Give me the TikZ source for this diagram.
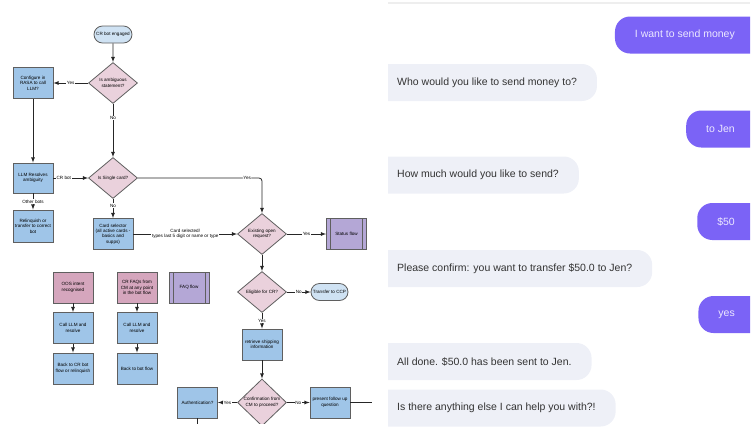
\documentclass[tikz,border=0pt]{standalone}
\usepackage{fontspec}
\setmainfont{Liberation Sans}
\usetikzlibrary{shapes.geometric,shapes.misc}

\definecolor{startblau}{HTML}{CFE2F3}
\definecolor{kastenblau}{HTML}{9FC5E8}
\definecolor{rautenrosa}{HTML}{EAD1DC}
\definecolor{altrosa}{HTML}{D5A6BD}
\definecolor{flowlila}{HTML}{B4A7D6}
\definecolor{rahmen}{HTML}{5F5F5F}
\definecolor{userlila}{HTML}{7B63F6}
\definecolor{usertext}{HTML}{ECE8FF}
\definecolor{botgrau}{HTML}{EEF0F7}
\definecolor{bottext}{HTML}{333333}
\definecolor{trenner}{HTML}{EEEEEE}

\begin{document}
\begin{tikzpicture}[x=1pt, y=-1pt,
    font=\fontsize{4.6}{5.4}\selectfont,
    >=latex % arrow tips
    ]
    \useasboundingbox (0,0) rectangle (753,437);

    \tikzset{
        Box/.style={draw=rahmen, line width=0.8pt, fill=#1, minimum width=40pt,
            minimum height=31pt, inner sep=1pt, align=center},
        Box/.default=kastenblau,
        Terminal/.style={draw=rahmen, line width=0.8pt, fill=startblau, rounded rectangle,
            minimum width=40pt, minimum height=17pt, inner sep=1pt},
        Decision/.style={draw=rahmen, line width=0.8pt, fill=rautenrosa, diamond, aspect=1.2,
            minimum width=49pt, minimum height=41pt, inner sep=0pt, align=center},
        Subflow/.style={Box=flowlila, path picture={
            \draw[rahmen, line width=0.8pt]
                ([xshift=4pt]path picture bounding box.north west) -- ([xshift=4pt]path picture bounding box.south west)
                ([xshift=-4pt]path picture bounding box.north east) -- ([xshift=-4pt]path picture bounding box.south east);}},
        Pfeil/.style={draw=black!85, line width=0.8pt, ->}, % connectors with tip
        Linie/.style={draw=black!85, line width=0.8pt},     % connectors without tip
        Label/.style={fill=white, inner sep=0.6pt},
        Bubble/.style={rounded corners=15pt, minimum height=37pt, inner xsep=20pt,
            font=\fontsize{10.5}{12}\selectfont},
        % bubbles run on past the clip, so only one end shows round
        User/.style={Bubble, fill=userlila, text=usertext, anchor=east,
            execute at end node={\hspace*{20pt}}},
        Bot/.style={Bubble, fill=botgrau, text=bottext, anchor=west,
            execute at begin node={\hspace*{19pt}}}
    }

    % Flowchart
    \begin{scope}
        \clip (0,0) rectangle (376,423);

        % main path
        \node[Terminal] (start) at (113,34.5) {CR bot engaged};
        \node[Decision] (ambig) at (113,83) {Is ambiguous\\statement?};
        \node[Box] (rasa) at (33,83) {Configure in\\RASA to call\\LLM?};
        \node[Box, minimum height=30pt] (llm) at (33,178) {LLM Resolves\\ambiguity};
        \node[Box, minimum height=32pt] (relinq) at (33,226) {Relinquish or\\transfer to correct\\bot};
        \node[Decision] (single) at (113,178) {Is Single card?};
        \node[Box] (cardsel) at (113,234) {Card selector\\(all active cards -\\basics and\\supps)};
        \node[Decision] (existing) at (262,234) {Existing open\\request?};
        \node[Subflow] (status) at (346.5,234) {Status flow};
        \node[Decision] (eligible) at (262,292) {Eligible for CR?};
        \node[Terminal, minimum width=39pt] (ccp) at (329.5,292) {Transfer to CCP};
        \node[Box] (shipping) at (262,344.5) {retrieve shipping\\information};
        \node[Decision, minimum height=47pt] (confirm) at (262,402.5) {Confirmation from\\CM to proceed?};
        \node[Box] (auth) at (197.5,402.5) {Authentication?};
        \node[Box] (followup) at (330,402.5) {present follow up\\question};
        \coordinate (weiter) at (372,402.5);
        \coordinate (unten) at (197.5,430);

        % side flows
        \node[Box=altrosa] (oos) at (73,287.5) {OOS intent\\recognised};
        \node[Box] (callA) at (73,328) {Call LLM and\\resolve};
        \node[Box] (backA) at (73,368.5) {Back to CR bot\\flow or relinquish};
        \node[Box=altrosa] (faqs) at (137,287.5) {CR FAQs from\\CM at any point\\in the bot flow};
        \node[Box] (callB) at (137,328) {Call LLM and\\resolve};
        \node[Box] (backB) at (137,368.5) {Back to bot flow};
        \node[Subflow] (faq) at (189,287.5) {FAQ flow};

        % connectors
        \draw[Pfeil] (start) -- (ambig);
        \draw[Pfeil] (ambig) -- node[Label]{Yes} (rasa);
        \draw[Pfeil] (ambig) -- node[Label, pos=0.27]{No} (single);
        \draw[Pfeil] (rasa) -- (llm);
        \draw[Pfeil] (llm) -- node[Label, pos=0.3]{CR bot} (single);
        \draw[Pfeil] (llm) -- node[Label]{Other bots} (relinq);
        \draw[Pfeil] (single) -- node[Label, pos=0.35]{No} (cardsel);
        \draw[Pfeil, rounded corners=3pt] (single) -| node[Label, pos=0.44]{Yes} (existing);
        \draw[Pfeil] (cardsel) -- node[Label, align=center]{Card selected/\\types last 5 digit or name or type} (existing);
        \draw[Pfeil] (existing) -- node[Label]{Yes} (status);
        \draw[Pfeil] (existing) -- (eligible);
        \draw[Pfeil] (eligible) -- node[Label]{No} (ccp);
        \draw[Pfeil] (eligible) -- node[Label]{Yes} (shipping);
        \draw[Pfeil] (shipping) -- (confirm);
        \draw[Pfeil] (confirm) -- node[Label]{Yes} (auth);
        \draw[Pfeil] (confirm) -- node[Label]{No} (followup);
        \draw[Linie] (followup) -- (weiter);
        \draw[Linie] (auth) -- (unten);
        \draw[Pfeil] (oos) -- (callA);
        \draw[Pfeil] (callA) -- (backA);
        \draw[Pfeil] (faqs) -- (callB);
        \draw[Pfeil] (callB) -- (backB);
    \end{scope}

    % Chat
    \begin{scope}
        \clip (388,0) rectangle (750,437);
        \draw[trenner, line width=2pt] (388,3) -- (750,3);

        \node[User] (u1) at (775,35) {I want to send money};
        \node[Bot] (b1) at (358,82.5) {Who would you like to send money to?};
        \node[User] (u2) at (775,129) {to Jen};
        \node[Bot] (b2) at (358,175) {How much would you like to send?};
        \node[User] (u3) at (775,221.5) {\$50};
        \node[Bot] (b3) at (358,268.5) {Please confirm: you want to transfer \$50.0 to Jen?};
        \node[User] (u4) at (775,314.5) {yes};
        \node[Bot] (b4) at (358,361.5) {All done. \$50.0 has been sent to Jen.};
        \node[Bot] (b5) at (358,408) {Is there anything else I can help you with?!};
    \end{scope}
\end{tikzpicture}
\end{document}
